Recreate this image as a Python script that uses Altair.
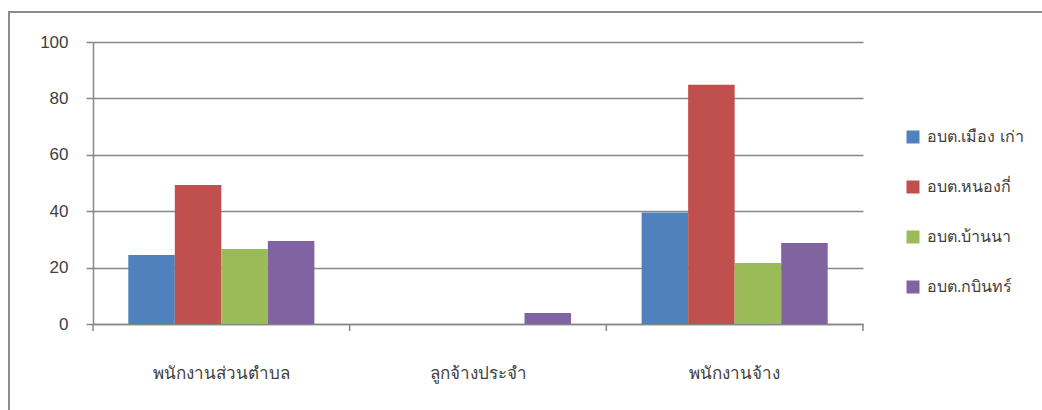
import altair as alt
import pandas as pd

categories = ["พนักงานส่วนตำบล", "ลูกจ้างประจำ", "พนักงานจ้าง"]
series = ["อบต.เมือง เก่า", "อบต.หนองกี่", "อบต.บ้านนา", "อบต.กบินทร์"]
values_muang_kao = [24.5, 0, 39.5]
values_nong_ki = [49.3, 0, 84.8]
values_ban_na = [26.6, 0, 21.6]
values_kabin = [29.4, 3.9, 28.7]
y_ticks = [0, 20, 40, 60, 80, 100]
colors = ["#4F81BD", "#C0504D", "#9BBB59", "#8064A2"]

rows = []
for s, vals in zip(series, [values_muang_kao, values_nong_ki, values_ban_na, values_kabin]):
    for c, v in zip(categories, vals):
        rows.append({"category": c, "series": s, "value": v})
df = pd.DataFrame(rows)

GRID = "#878787"
TEXT = "#404040"
W, H = 770, 282

xscale = alt.Scale(domain=categories, paddingInner=0.275, paddingOuter=0.1375)

bars = alt.Chart(df).mark_bar().encode(
    x=alt.X("category:N", scale=xscale, sort=categories,
            axis=alt.Axis(title=None, labelAngle=0, ticks=False, domain=True,
                          domainColor=GRID, domainWidth=1.5,
                          labelFontSize=17, labelColor=TEXT, labelPadding=41)),
    xOffset=alt.XOffset("series:N", sort=series),
    y=alt.Y("value:Q", scale=alt.Scale(domain=[0, 100], nice=False),
            axis=alt.Axis(title=None, values=y_ticks, grid=True, gridColor=GRID,
                          gridWidth=1.5, domainColor=GRID, domainWidth=1.5,
                          tickColor=GRID, tickWidth=1.5, tickSize=7,
                          labelFontSize=17, labelColor=TEXT, labelPadding=18)),
    color=alt.Color("series:N", sort=series,
                    scale=alt.Scale(domain=series, range=colors),
                    legend=alt.Legend(title=None, orient="none", legendX=812, legendY=87,
                                      symbolType="square", symbolSize=169,
                                      symbolStrokeWidth=0, labelFontSize=16,
                                      labelColor=TEXT, rowPadding=34, labelOffset=6,
                                      padding=0)),
)

# category boundaries (0 .. n) for the x-axis tick marks
tick_df = pd.DataFrame({"boundary": list(range(len(categories) + 1))})
xticks = alt.Chart(tick_df).mark_rule(color=GRID, strokeWidth=1.5).encode(
    x=alt.X("boundary:Q", scale=alt.Scale(domain=[0, len(categories)], nice=False), axis=None),
    y=alt.value(H),
    y2=alt.value(H + 7),
)
frame_v = alt.Chart(alt.Data(values=[{}])).mark_rule(color="#8c8c8c", strokeWidth=2).encode(
    x=alt.value(-84), y=alt.value(-30), y2=alt.value(H + 100)
)
frame_h = alt.Chart(alt.Data(values=[{}])).mark_rule(color="#8c8c8c", strokeWidth=2).encode(
    x=alt.value(-85), x2=alt.value(W + 200), y=alt.value(-30)
)

chart = alt.layer(bars, xticks, frame_v, frame_h).resolve_scale(x="independent").properties(
    width=W, height=H,
    autosize=alt.AutoSizeParams(type="none"),
    padding={"left": 93, "top": 42, "right": 179, "bottom": 86},
).configure(font="Liberation Sans").configure_view(stroke=None)

chart.save("out.html", embed_options={"renderer": "svg", "actions": False})
